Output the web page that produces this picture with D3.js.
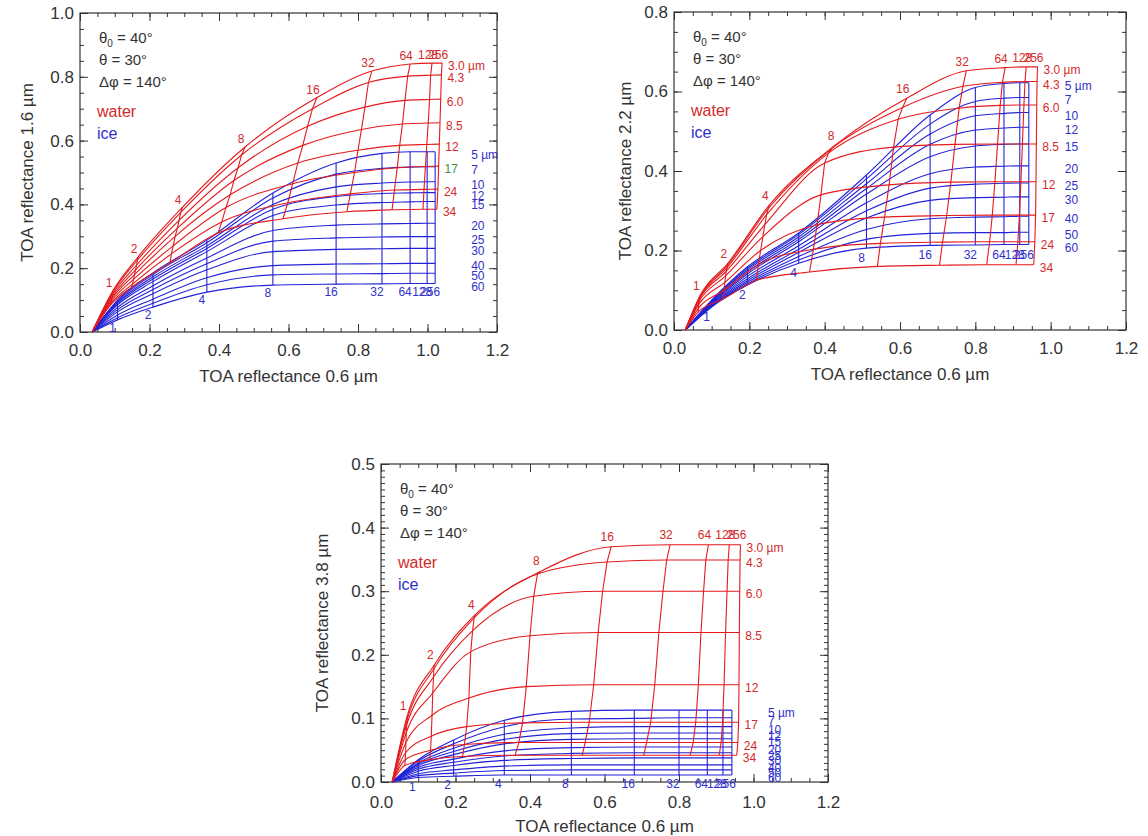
<!DOCTYPE html>
<html><head><meta charset="utf-8">
<script src="https://cdn.jsdelivr.net/npm/d3@7"></script>
<style>body{margin:0;background:#fff;} text{font-family:"Liberation Sans",Arial,Helvetica,sans-serif;}</style>
</head><body><svg id="c" width="1148" height="836"></svg>
<script>
// ---------- data ----------
const tauValues = [0, 1, 2, 4, 8, 16, 32, 64, 128, 256];
const tauLabels = ["1", "2", "4", "8", "16", "32", "64", "128", "256"];
const waterRadii = [3.0, 4.3, 6.0, 8.5, 12, 17, 24, 34];
const waterRadiusLabels = ["3.0 µm", "4.3", "6.0", "8.5", "12", "17", "24", "34"];
const iceRadii = [5, 7, 10, 12, 15, 20, 25, 30, 40, 50, 60];
const iceRadiusLabels = ["5 µm", "7", "10", "12", "15", "20", "25", "30", "40", "50", "60"];

// Panel 1 (1.6 µm) — rows: radius, columns: tau
const p1WaterX = [
  [0.035, 0.095, 0.167, 0.294, 0.475, 0.682, 0.84, 0.95, 1.013, 1.042],
  [0.035, 0.094, 0.165, 0.29, 0.465, 0.669, 0.83, 0.943, 1.009, 1.04],
  [0.035, 0.093, 0.163, 0.285, 0.455, 0.655, 0.82, 0.935, 1.006, 1.038],
  [0.035, 0.092, 0.16, 0.28, 0.443, 0.641, 0.81, 0.928, 1.002, 1.036],
  [0.035, 0.091, 0.157, 0.274, 0.432, 0.627, 0.8, 0.92, 0.998, 1.034],
  [0.035, 0.09, 0.154, 0.268, 0.42, 0.612, 0.79, 0.913, 0.994, 1.032],
  [0.035, 0.089, 0.151, 0.263, 0.408, 0.598, 0.778, 0.905, 0.99, 1.03],
  [0.035, 0.088, 0.148, 0.259, 0.397, 0.584, 0.768, 0.898, 0.987, 1.027]
];
const p1WaterY = [
  [0, 0.13, 0.235, 0.39, 0.58, 0.735, 0.818, 0.84, 0.843, 0.843],
  [0, 0.125, 0.225, 0.375, 0.555, 0.70, 0.782, 0.802, 0.805, 0.806],
  [0, 0.118, 0.21, 0.35, 0.515, 0.645, 0.705, 0.726, 0.729, 0.73],
  [0, 0.11, 0.195, 0.325, 0.475, 0.585, 0.635, 0.652, 0.655, 0.656],
  [0, 0.104, 0.18, 0.30, 0.43, 0.53, 0.57, 0.585, 0.588, 0.589],
  [0, 0.097, 0.165, 0.27, 0.39, 0.465, 0.50, 0.515, 0.519, 0.52],
  [0, 0.09, 0.15, 0.245, 0.345, 0.405, 0.433, 0.445, 0.447, 0.448],
  [0, 0.085, 0.14, 0.216, 0.31, 0.355, 0.377, 0.383, 0.385, 0.385]
];
const p1IceX = [0.035, 0.108, 0.21, 0.365, 0.555, 0.737, 0.869, 0.95, 0.999, 1.022];
const p1IceY = [
  [0, 0.10, 0.185, 0.288, 0.436, 0.53, 0.56, 0.565, 0.565, 0.565],
  [0, 0.097, 0.18, 0.28, 0.42, 0.495, 0.513, 0.517, 0.518, 0.518],
  [0, 0.093, 0.173, 0.27, 0.40, 0.455, 0.467, 0.47, 0.471, 0.471],
  [0, 0.089, 0.166, 0.262, 0.385, 0.425, 0.434, 0.436, 0.437, 0.437],
  [0, 0.085, 0.158, 0.252, 0.365, 0.398, 0.406, 0.408, 0.409, 0.409],
  [0, 0.077, 0.145, 0.232, 0.318, 0.335, 0.339, 0.34, 0.341, 0.341],
  [0, 0.07, 0.133, 0.214, 0.285, 0.295, 0.298, 0.299, 0.299, 0.299],
  [0, 0.063, 0.12, 0.195, 0.252, 0.259, 0.261, 0.262, 0.262, 0.262],
  [0, 0.053, 0.103, 0.17, 0.208, 0.213, 0.214, 0.215, 0.215, 0.215],
  [0, 0.045, 0.09, 0.148, 0.179, 0.182, 0.183, 0.184, 0.184, 0.184],
  [0, 0.038, 0.078, 0.125, 0.147, 0.150, 0.151, 0.152, 0.152, 0.152]
];

// Panels 2 and 3 share the 0.6 µm reflectances
const waterX = [
  [0.03, 0.07, 0.143, 0.253, 0.428, 0.618, 0.776, 0.879, 0.935, 0.965],
  [0.03, 0.07, 0.142, 0.25, 0.42, 0.607, 0.767, 0.872, 0.932, 0.964],
  [0.03, 0.069, 0.141, 0.246, 0.41, 0.595, 0.757, 0.866, 0.929, 0.963],
  [0.03, 0.068, 0.139, 0.241, 0.40, 0.583, 0.746, 0.859, 0.925, 0.962],
  [0.03, 0.067, 0.137, 0.236, 0.39, 0.571, 0.735, 0.852, 0.921, 0.961],
  [0.03, 0.066, 0.135, 0.23, 0.38, 0.559, 0.724, 0.845, 0.917, 0.96],
  [0.03, 0.065, 0.133, 0.224, 0.37, 0.548, 0.713, 0.838, 0.913, 0.958],
  [0.03, 0.064, 0.131, 0.219, 0.36, 0.54, 0.705, 0.83, 0.908, 0.955]
];
const iceX = [0.03, 0.1, 0.195, 0.331, 0.511, 0.68, 0.80, 0.876, 0.918, 0.942];

// Panel 2 (2.2 µm)
const p2WaterY = [
  [0, 0.088, 0.168, 0.314, 0.465, 0.583, 0.652, 0.66, 0.662, 0.662],
  [0, 0.086, 0.163, 0.305, 0.458, 0.56, 0.613, 0.623, 0.625, 0.625],
  [0, 0.083, 0.157, 0.29, 0.445, 0.53, 0.558, 0.565, 0.566, 0.566],
  [0, 0.079, 0.148, 0.265, 0.42, 0.46, 0.467, 0.468, 0.468, 0.468],
  [0, 0.073, 0.136, 0.235, 0.34, 0.365, 0.372, 0.373, 0.373, 0.373],
  [0, 0.065, 0.12, 0.2, 0.265, 0.284, 0.288, 0.289, 0.289, 0.289],
  [0, 0.055, 0.1, 0.165, 0.203, 0.218, 0.221, 0.222, 0.222, 0.222],
  [0, 0.045, 0.078, 0.125, 0.146, 0.16, 0.163, 0.164, 0.164, 0.164]
];
const p2IceY = [
  [0, 0.075, 0.159, 0.244, 0.39, 0.541, 0.61, 0.62, 0.622, 0.622],
  [0, 0.074, 0.155, 0.24, 0.38, 0.518, 0.575, 0.583, 0.585, 0.585],
  [0, 0.072, 0.151, 0.234, 0.368, 0.493, 0.539, 0.545, 0.547, 0.547],
  [0, 0.07, 0.146, 0.228, 0.356, 0.467, 0.503, 0.508, 0.51, 0.51],
  [0, 0.068, 0.141, 0.222, 0.342, 0.436, 0.463, 0.467, 0.468, 0.468],
  [0, 0.066, 0.135, 0.212, 0.32, 0.393, 0.41, 0.412, 0.413, 0.413],
  [0, 0.064, 0.129, 0.203, 0.30, 0.357, 0.367, 0.369, 0.37, 0.37],
  [0, 0.062, 0.124, 0.195, 0.282, 0.326, 0.333, 0.334, 0.335, 0.335],
  [0, 0.06, 0.12, 0.185, 0.253, 0.28, 0.284, 0.285, 0.286, 0.286],
  [0, 0.059, 0.116, 0.176, 0.228, 0.243, 0.245, 0.245, 0.246, 0.246],
  [0, 0.058, 0.113, 0.168, 0.206, 0.213, 0.214, 0.215, 0.215, 0.215]
];

// Panel 3 (3.8 µm)
const p3WaterY = [
  [0, 0.103, 0.184, 0.263, 0.331, 0.37, 0.373, 0.373, 0.373, 0.373],
  [0, 0.098, 0.178, 0.258, 0.327, 0.346, 0.349, 0.349, 0.349, 0.349],
  [0, 0.09, 0.165, 0.238, 0.292, 0.30, 0.30, 0.30, 0.30, 0.30],
  [0, 0.078, 0.14, 0.205, 0.23, 0.235, 0.235, 0.235, 0.235, 0.235],
  [0, 0.062, 0.105, 0.132, 0.15, 0.153, 0.153, 0.153, 0.153, 0.153],
  [0, 0.046, 0.072, 0.087, 0.093, 0.094, 0.094, 0.094, 0.094, 0.094],
  [0, 0.035, 0.05, 0.059, 0.062, 0.062, 0.062, 0.062, 0.062, 0.062],
  [0, 0.026, 0.035, 0.04, 0.042, 0.042, 0.042, 0.042, 0.042, 0.042]
];
const p3IceY = [
  [0, 0.035, 0.066, 0.097, 0.111, 0.113, 0.113, 0.113, 0.113, 0.113],
  [0, 0.033, 0.06, 0.087, 0.099, 0.10, 0.101, 0.101, 0.101, 0.101],
  [0, 0.03, 0.053, 0.075, 0.085, 0.087, 0.087, 0.087, 0.087, 0.087],
  [0, 0.028, 0.048, 0.067, 0.076, 0.077, 0.077, 0.077, 0.077, 0.077],
  [0, 0.026, 0.043, 0.06, 0.067, 0.068, 0.068, 0.068, 0.068, 0.068],
  [0, 0.023, 0.036, 0.049, 0.054, 0.055, 0.055, 0.055, 0.055, 0.055],
  [0, 0.02, 0.031, 0.041, 0.045, 0.046, 0.046, 0.046, 0.046, 0.046],
  [0, 0.017, 0.026, 0.034, 0.037, 0.038, 0.038, 0.038, 0.038, 0.038],
  [0, 0.013, 0.019, 0.025, 0.027, 0.027, 0.027, 0.027, 0.027, 0.027],
  [0, 0.01, 0.014, 0.018, 0.019, 0.019, 0.019, 0.019, 0.019, 0.019],
  [0, 0.007, 0.009, 0.011, 0.011, 0.011, 0.011, 0.011, 0.011, 0.011]
];

const xTickValues = [0, 0.2, 0.4, 0.6, 0.8, 1.0, 1.2];
const annotation = { sza: "40°", vza: "30°", raz: "140°" };

// ---------- styles / layout ----------
const RED = "#e41a1c", RED_TXT = "#d42a2a", BLUE = "#2222d8", BLUE_TXT = "#3030cc";
const panels = [
  { box: {l: 80, r: 497, t: 13, b: 332}, yDomain: [0, 1.0], yMajor: [0, 0.2, 0.4, 0.6, 0.8, 1.0], yMinorStep: 0.05,
    yTitle: "TOA reflectance 1.6 µm", yTitleX: 33, xPad: 12,
    wX: p1WaterX, wY: p1WaterY, iX: p1IceX, iY: p1IceY,
    wTauOff: [-4, -8], iTauOff: [-5, 8], rLabelColor: {5: "#3f8f3a"} },
  { box: {l: 674, r: 1126, t: 12, b: 330}, yDomain: [0, 0.8], yMajor: [0, 0.2, 0.4, 0.6, 0.8], yMinorStep: 0.05,
    yTitle: "TOA reflectance 2.2 µm", yTitleX: 631, xPad: 12,
    wX: waterX, wY: p2WaterY, iX: iceX, iY: p2IceY,
    wTauOff: [-4, -9], iTauOff: [-5, 10], rLabelColor: {} },
  { box: {l: 381, r: 828, t: 464, b: 782}, yDomain: [0, 0.5], yMajor: [0, 0.1, 0.2, 0.3, 0.4, 0.5], yMinorStep: 0.01,
    yTitle: "TOA reflectance 3.8 µm", yTitleX: 328, xPad: 14,
    wX: waterX, wY: p3WaterY, iX: iceX, iY: p3IceY,
    wTauOff: [-4, -10], iTauOff: [-6, 9], rLabelColor: {} }
];

const svg = d3.select("#c");
const fmt = d3.format(".1f");

panels.forEach(p => {
  const B = p.box;
  const x = d3.scaleLinear().domain([0, 1.2]).range([B.l, B.r]);
  const y = d3.scaleLinear().domain(p.yDomain).range([B.b, B.t]);
  const g = svg.append("g");
  const xMinor = d3.range(0, 1.2 + 1e-9, 0.05);
  const yMinor = d3.range(p.yDomain[0], p.yDomain[1] + 1e-9, p.yMinorStep);

  // axes (inward ticks, IDL style)
  const axStyle = sel => { sel.select(".domain").remove(); sel.selectAll("line").attr("stroke", "#333").attr("stroke-width", 1);
    sel.selectAll("text").attr("fill", "#333").style("font-size", "17px").style("font-family", '"Liberation Sans",Arial,sans-serif'); };
  g.append("g").attr("transform", `translate(0,${B.b})`)
    .call(d3.axisBottom(x).tickValues(xMinor).tickSizeInner(-4).tickSizeOuter(0).tickFormat("")).call(axStyle);
  g.append("g").attr("transform", `translate(0,${B.b})`)
    .call(d3.axisBottom(x).tickValues(xTickValues).tickSizeInner(-8).tickSizeOuter(0).tickPadding(p.xPad).tickFormat(fmt)).call(axStyle);
  g.append("g").attr("transform", `translate(0,${B.t})`)
    .call(d3.axisTop(x).tickValues(xMinor).tickSizeInner(-4).tickSizeOuter(0).tickFormat("")).call(axStyle);
  g.append("g").attr("transform", `translate(0,${B.t})`)
    .call(d3.axisTop(x).tickValues(xTickValues).tickSizeInner(-8).tickSizeOuter(0).tickFormat("")).call(axStyle);
  g.append("g").attr("transform", `translate(${B.l},0)`)
    .call(d3.axisLeft(y).tickValues(yMinor).tickSizeInner(-4).tickSizeOuter(0).tickFormat("")).call(axStyle);
  g.append("g").attr("transform", `translate(${B.l},0)`)
    .call(d3.axisLeft(y).tickValues(p.yMajor).tickSizeInner(-8).tickSizeOuter(0).tickPadding(6).tickFormat(fmt)).call(axStyle);
  g.append("g").attr("transform", `translate(${B.r},0)`)
    .call(d3.axisRight(y).tickValues(yMinor).tickSizeInner(-4).tickSizeOuter(0).tickFormat("")).call(axStyle);
  g.append("g").attr("transform", `translate(${B.r},0)`)
    .call(d3.axisRight(y).tickValues(p.yMajor).tickSizeInner(-8).tickSizeOuter(0).tickFormat("")).call(axStyle);
  g.append("rect").attr("x", B.l).attr("y", B.t).attr("width", B.r - B.l).attr("height", B.b - B.t)
    .attr("fill", "none").attr("stroke", "#333").attr("stroke-width", 1.2);

  // titles
  g.append("text").attr("x", (B.l + B.r) / 2).attr("y", B.b + 50).attr("text-anchor", "middle")
    .attr("fill", "#333").style("font-size", "17px").text("TOA reflectance 0.6 µm");
  g.append("text").attr("transform", `translate(${p.yTitleX},${(B.t + B.b) / 2}) rotate(-90)`).attr("text-anchor", "middle")
    .attr("fill", "#333").style("font-size", "17px").text(p.yTitle);

  // annotation
  const ax = B.l + 19;
  const t0 = g.append("text").attr("x", ax).attr("y", B.t + 30).attr("fill", "#333").style("font-size", "15px");
  t0.append("tspan").text("θ");
  t0.append("tspan").attr("dy", 4).style("font-size", "10px").text("0");
  t0.append("tspan").attr("dy", -4).text(" = " + annotation.sza);
  g.append("text").attr("x", ax).attr("y", B.t + 52).attr("fill", "#333").style("font-size", "15px").text("θ = " + annotation.vza);
  g.append("text").attr("x", ax).attr("y", B.t + 74).attr("fill", "#333").style("font-size", "15px").text("Δφ = " + annotation.raz);
  g.append("text").attr("x", ax - 2).attr("y", B.t + 104).attr("fill", RED_TXT).style("font-size", "16px").text("water");
  g.append("text").attr("x", ax - 2).attr("y", B.t + 126).attr("fill", BLUE_TXT).style("font-size", "16px").text("ice");

  const smooth = d3.line().x(d => x(d[0])).y(d => y(d[1])).curve(d3.curveMonotoneX);
  const straight = d3.line().x(d => x(d[0])).y(d => y(d[1]));

  // ice grid
  const iceG = g.append("g").attr("fill", "none").attr("stroke", BLUE).attr("stroke-width", 1.1);
  iceRadii.forEach((r, i) => {
    const pts = tauValues.map((t, j) => [p.iX[j], p.iY[i][j]]);
    iceG.append("path").attr("d", smooth(pts));
  });
  tauValues.forEach((t, j) => {
    if (t === 0) return;
    const pts = iceRadii.map((r, i) => [p.iX[j], p.iY[i][j]]);
    iceG.append("path").attr("d", straight(pts));
  });

  // water grid
  const wG = g.append("g").attr("fill", "none").attr("stroke", RED).attr("stroke-width", 1.1);
  waterRadii.forEach((r, i) => {
    const pts = tauValues.map((t, j) => [p.wX[i][j], p.wY[i][j]]);
    wG.append("path").attr("d", smooth(pts));
  });
  tauValues.forEach((t, j) => {
    if (t === 0) return;
    const pts = waterRadii.map((r, i) => [p.wX[i][j], p.wY[i][j]]);
    wG.append("path").attr("d", straight(pts));
  });

  // labels
  const lab = g.append("g").style("font-size", "12px");
  const last = tauValues.length - 1;
  tauLabels.forEach((s, k) => {
    const j = k + 1;
    lab.append("text").attr("x", x(p.wX[0][j]) + p.wTauOff[0]).attr("y", y(p.wY[0][j]) + p.wTauOff[1] + 4)
      .attr("text-anchor", "middle").attr("fill", RED_TXT).text(s);
    lab.append("text").attr("x", x(p.iX[j]) + p.iTauOff[0]).attr("y", y(p.iY[iceRadii.length - 1][j]) + p.iTauOff[1] + 4)
      .attr("text-anchor", "middle").attr("fill", BLUE_TXT).text(s);
  });
  waterRadiusLabels.forEach((s, i) => {
    lab.append("text").attr("x", x(p.wX[i][last]) + 6).attr("y", y(p.wY[i][last]) + 7)
      .attr("fill", p.rLabelColor[i] || RED_TXT).text(s);
  });
  iceRadiusLabels.forEach((s, i) => {
    lab.append("text").attr("x", x(p.iX[last]) + 36).attr("y", y(p.iY[i][last]) + 7)
      .attr("fill", BLUE_TXT).text(s);
  });
});
</script></body></html>
